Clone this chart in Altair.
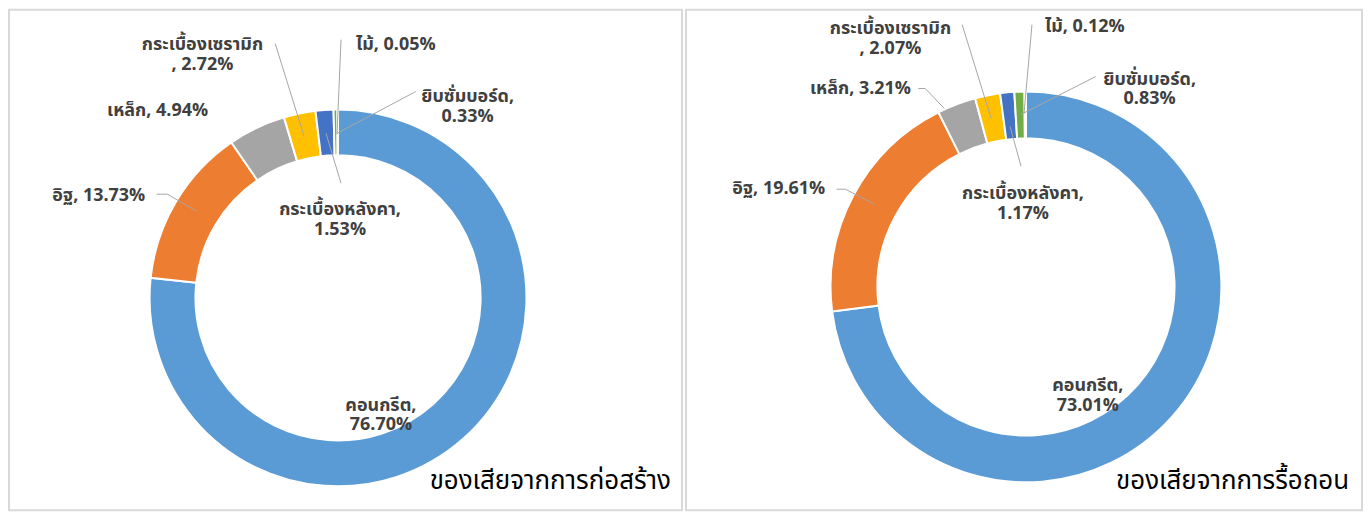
import altair as alt
import pandas as pd

# ---------------- data ----------------
materials = ["คอนกรีต", "อิฐ", "เหล็ก", "กระเบื้องเซรามิก", "กระเบื้องหลังคา", "ยิบซั่มบอร์ด", "ไม้"]
construction = [76.70, 13.73, 4.94, 2.72, 1.53, 0.33, 0.05]
demolition = [73.01, 19.61, 3.21, 2.07, 1.17, 0.83, 0.12]
colors = ["#5B9BD5", "#ED7D31", "#A5A5A5", "#FFC000", "#4472C4", "#70AD47", "#255E91"]
titles = ["ของเสียจากการก่อสร้าง", "ของเสียจากการรื้อถอน"]
# how each data label is broken over lines: "one" = "name, v%", "two" = "name,\nv%", "lead" = "name\n, v%"
label_break = ["two", "one", "one", "lead", "two", "two", "one"]

# ---------------- layout ----------------
PANEL_W = [675, 678]
PANEL_H = 502
CENTERS = [(330, 289), (341, 278)]
RADII = [(189, 143), (196, 149)]
LABEL_OFFSETS = [
    [(43, 108), (-240, -102), (-181, -187), (-136, -254), (2, -88), (130, -201), (58, -254)],
    [(62, 99), (-248, -98), (-166, -198), (-136, -259), (-3, -93), (124, -208), (59, -261)],
]
LEADERS = [
    [[(-63, -255), (-34, -162)], [(3, -259), (-1, -164)], [(78, -207), (-1, -165)],
     [(-12, -165), (3, -115)], [(-182, -104), (-171, -104), (-142, -87)]],
    [[(-64, -263), (-35, -169)], [(6, -263), (-2, -174)], [(70, -211), (-5, -173)],
     [(-108, -199), (-101, -199), (-82, -179)], [(-16, -161), (-5, -121)],
     [(-190, -98), (-181, -98), (-152, -83)]],
]
TITLE_POS = [(664, 481), (665, 481)]

FONT = "Tahoma, 'Leelawadee UI', 'Noto Sans Thai', 'Noto Sans', sans-serif"


def label_text(name, v, kind):
    s = f"{v:.2f}%"
    if kind == "two":
        return f"{name},\n{s}"
    if kind == "lead":
        return f"{name}\n, {s}"
    return f"{name}, {s}"


def panel(i, values):
    W = PANEL_W[i]
    cx, cy = CENTERS[i]
    ro, ri = RADII[i]
    xs = alt.Scale(domain=[0, W], range=[0, W])
    ys = alt.Scale(domain=[0, PANEL_H], range=[0, PANEL_H])

    df = pd.DataFrame({
        "material": materials,
        "value": values,
        "idx": list(range(len(materials))),
        "label": [label_text(m, v, k) for m, v, k in zip(materials, values, label_break)],
        "lx": [cx + d[0] for d in LABEL_OFFSETS[i]],
        "ly": [cy + d[1] for d in LABEL_OFFSETS[i]],
    })

    arcs = alt.Chart(df).mark_arc(
        outerRadius=ro, innerRadius=ri, stroke="white", strokeWidth=2
    ).encode(
        theta=alt.Theta("value:Q", stack=True),
        order=alt.Order("idx:Q"),
        color=alt.Color("material:N", scale=alt.Scale(domain=materials, range=colors), legend=None),
        x=alt.value(cx),
        y=alt.value(cy),
    )

    segs = []
    for k, line in enumerate(LEADERS[i]):
        for (a, b) in zip(line[:-1], line[1:]):
            segs.append({"x": cx + a[0], "y": cy + a[1], "x2": cx + b[0], "y2": cy + b[1]})
    leaders = alt.Chart(pd.DataFrame(segs)).mark_rule(color="#A6A6A6", strokeWidth=1).encode(
        x=alt.X("x:Q", scale=xs, axis=None),
        y=alt.Y("y:Q", scale=ys, axis=None),
        x2="x2:Q",
        y2="y2:Q",
    )

    labels = alt.Chart(df).mark_text(
        font=FONT, fontSize=18, fontWeight="bold", color="#404040",
        lineBreak="\n", lineHeight=20, align="center", baseline="middle"
    ).encode(
        x=alt.X("lx:Q", scale=xs, axis=None),
        y=alt.Y("ly:Q", scale=ys, axis=None),
        text="label:N",
    )

    tdf = pd.DataFrame({"t": [titles[i]], "x": [TITLE_POS[i][0]], "y": [TITLE_POS[i][1]]})
    title = alt.Chart(tdf).mark_text(
        font=FONT, fontSize=26, color="#000000", align="right", baseline="alphabetic"
    ).encode(
        x=alt.X("x:Q", scale=xs, axis=None),
        y=alt.Y("y:Q", scale=ys, axis=None),
        text="t:N",
    )

    return alt.layer(arcs, leaders, labels, title).properties(width=W, height=PANEL_H)


chart = alt.hconcat(
    panel(0, construction), panel(1, demolition), spacing=2
).properties(
    padding=0, background="white"
).configure_view(
    stroke="#D9D9D9", strokeWidth=2
)

chart.save("out.html", embed_options={"renderer": "svg", "actions": False})
